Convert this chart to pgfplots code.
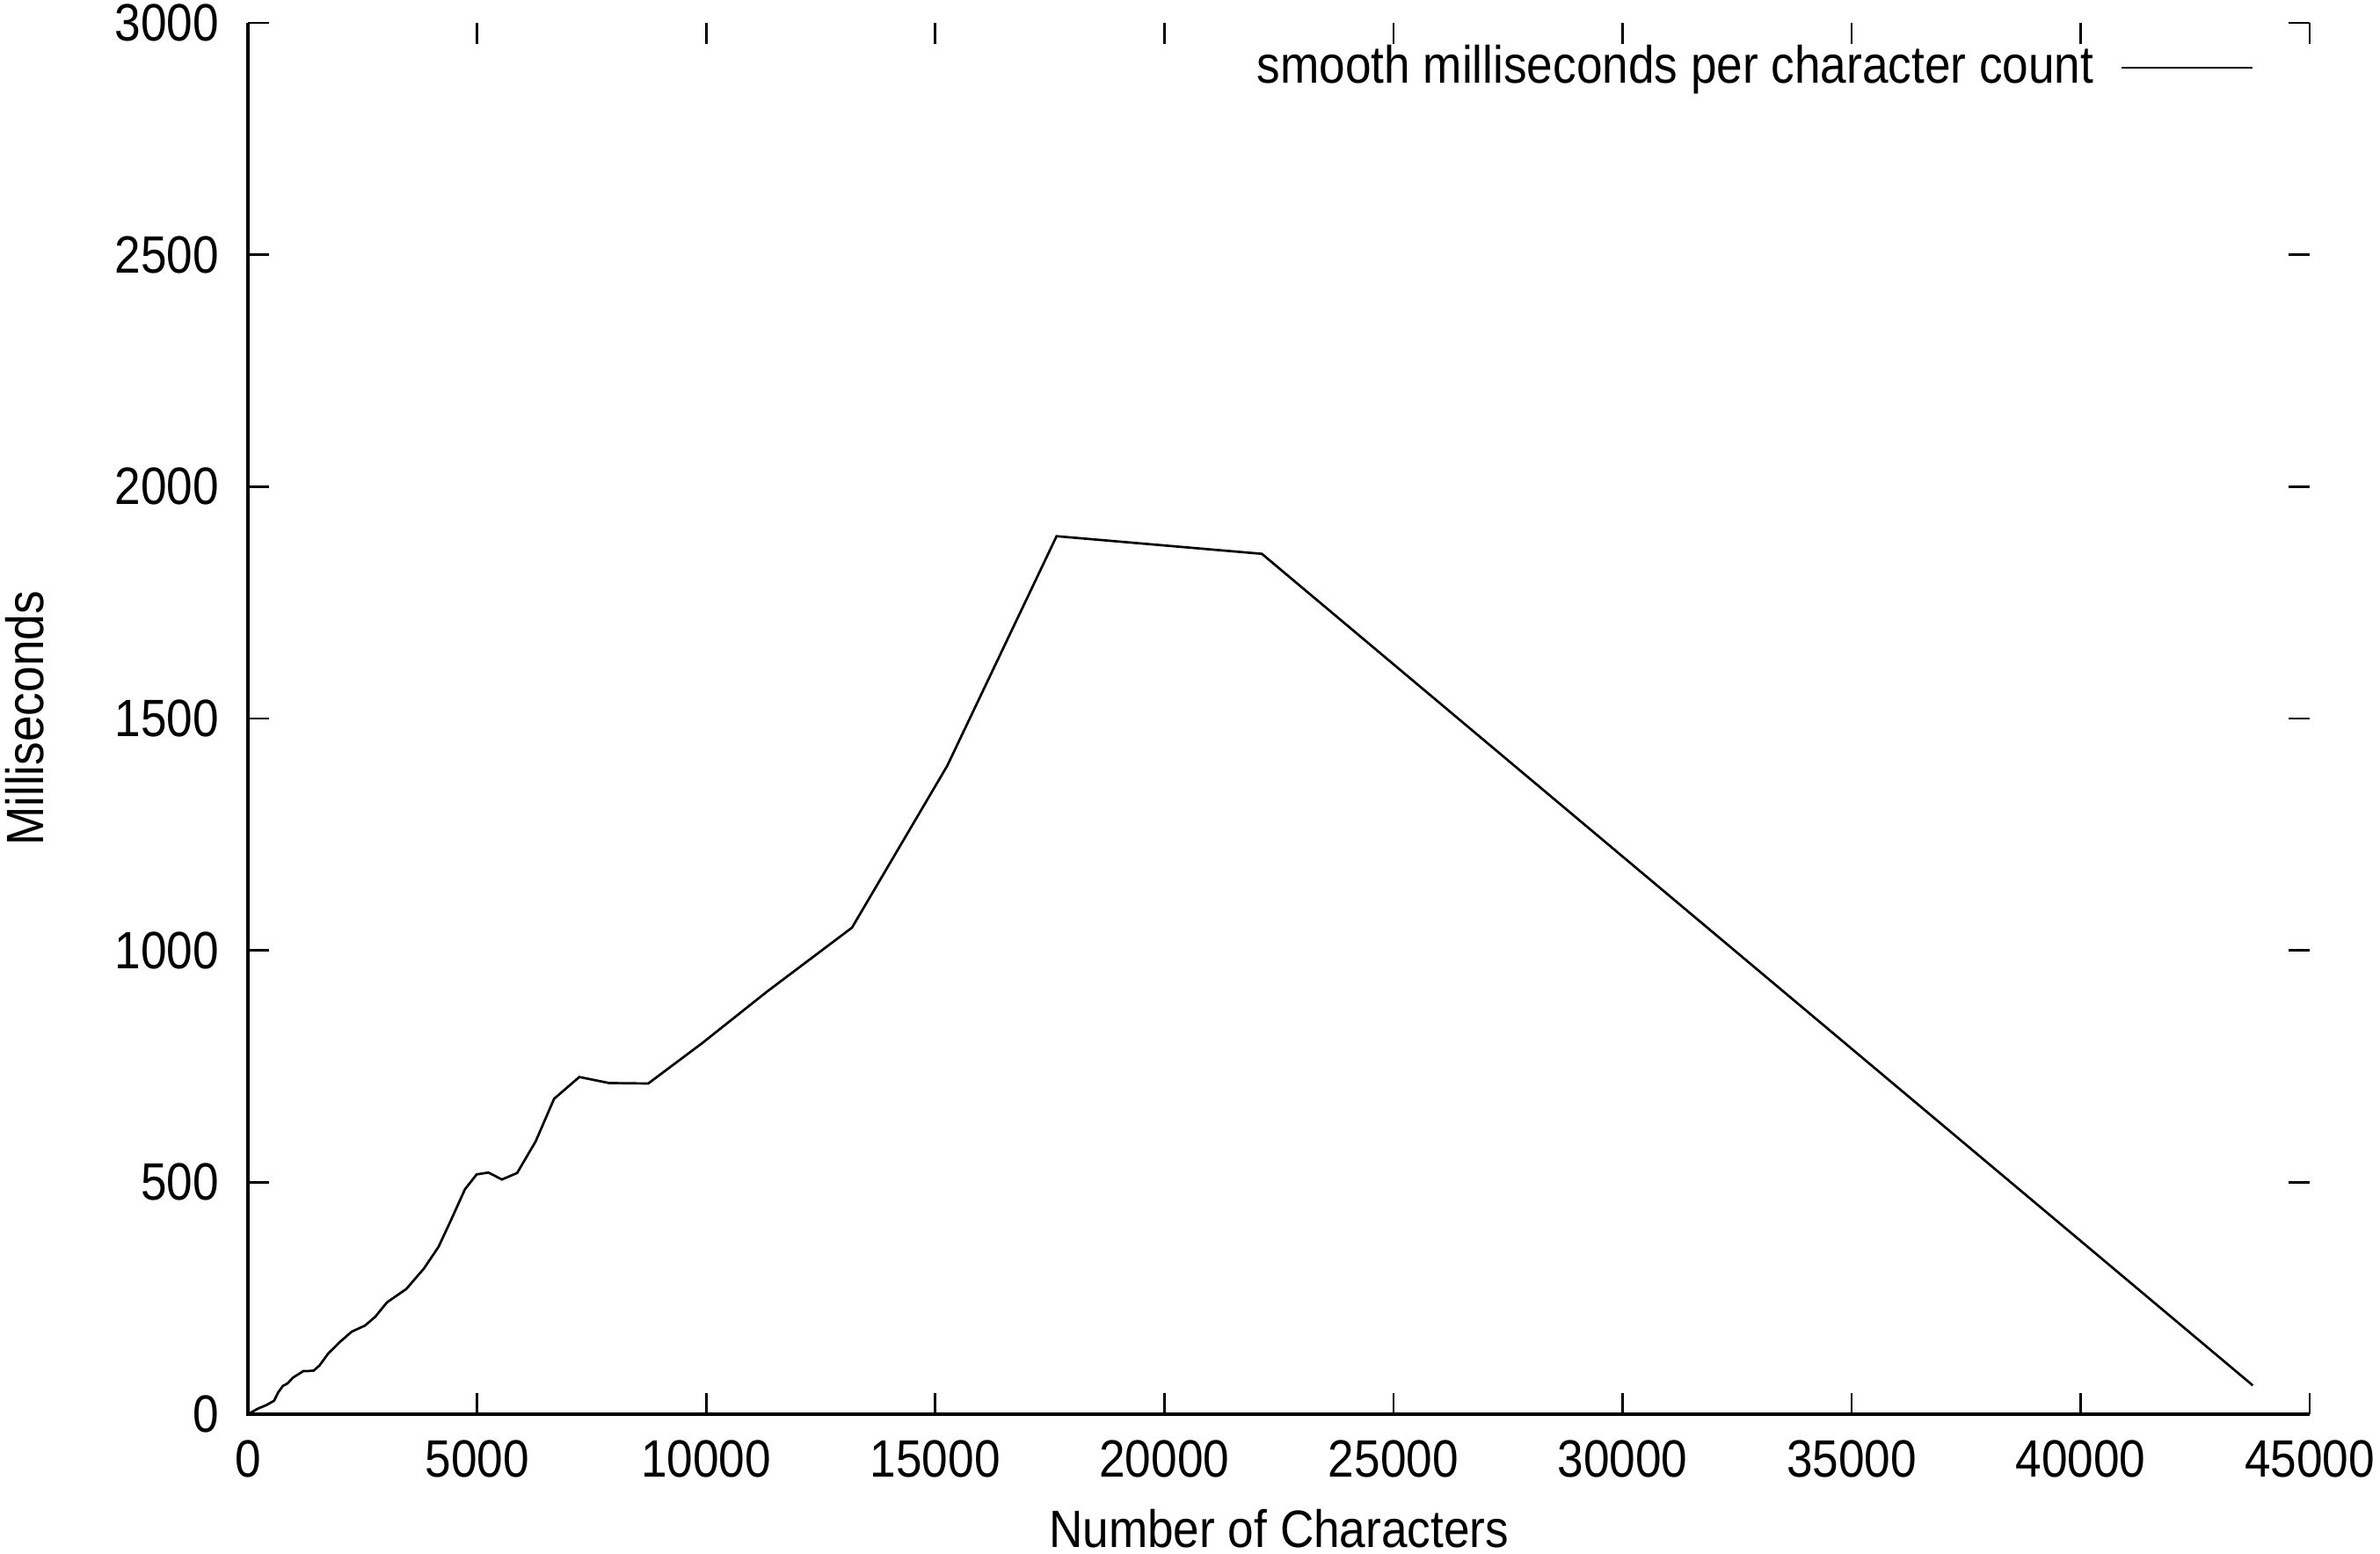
\documentclass[border=0pt]{standalone}
\usepackage{fontspec}
\setmainfont{Liberation Sans}[FakeStretch=0.89]
\usepackage{pgfplots}
\pgfplotsset{compat=1.18}

\begin{document}
\begin{tikzpicture}
\begin{axis}[
    scale only axis,
    width=392.5pt, height=264.8pt,
    xmin=0, xmax=45000, ymin=0, ymax=3000,
    xtick={0,5000,...,45000},
    ytick={0,500,...,3000},
    tick align=inside,
    major tick length=4pt,
    tick style={black, line width=0.45pt},
    axis line style={draw=none},
    clip=false,
    scaled ticks=false,
    /pgf/number format/set thousands separator={},
    /pgf/number format/assume math mode=true,
    ticklabel style={font=\fontsize{10}{12}\selectfont},
    yticklabel style={xshift=-2pt, inner ysep=0.8pt},
    xticklabel style={yshift=-1.5pt, inner xsep=1pt},
    label style={font=\fontsize{10}{12}\selectfont, inner sep=1pt},
    xlabel={Number of Characters},
    ylabel={Milliseconds},
    ylabel shift=9pt,
    xlabel shift=1.5pt,
    legend style={draw=none, fill=none, at={(0.981,1.0)}, anchor=north east,
        font=\fontsize{10}{12}\selectfont},
    legend plot pos=right,
    legend cell align=right,
]
\draw[line width=0.6pt] (rel axis cs:0,1) -- (rel axis cs:0,0) -- (rel axis cs:1,0);
\addplot[black, line width=0.45pt,
    legend image code/.code={\path (0cm,0cm); \draw[black, line width=0.45pt] (0.11cm,0cm) -- (0.985cm,0cm);}]
    coordinates {
    (0,0) (218,12) (410,20) (570,29) (666,48) (762,61) (858,66) (986,79)
    (1209,93) (1305,93) (1434,94) (1561,105) (1753,131) (2010,156) (2265,178)
    (2553,191) (2778,210) (3033,241) (3456,270) (3840,314) (4160,361)
    (4415,415) (4736,485) (4991,517) (5247,521) (5543,506) (5874,520)
    (6278,588) (6681,680) (7232,727) (7880,714) (8736,713) (9900,799)
    (11327,911) (13183,1049) (15262,1398) (17648,1893) (22129,1855)
    (43757,62)
    };
\addlegendentry{smooth milliseconds per character count}
\end{axis}
\end{tikzpicture}
\end{document}
